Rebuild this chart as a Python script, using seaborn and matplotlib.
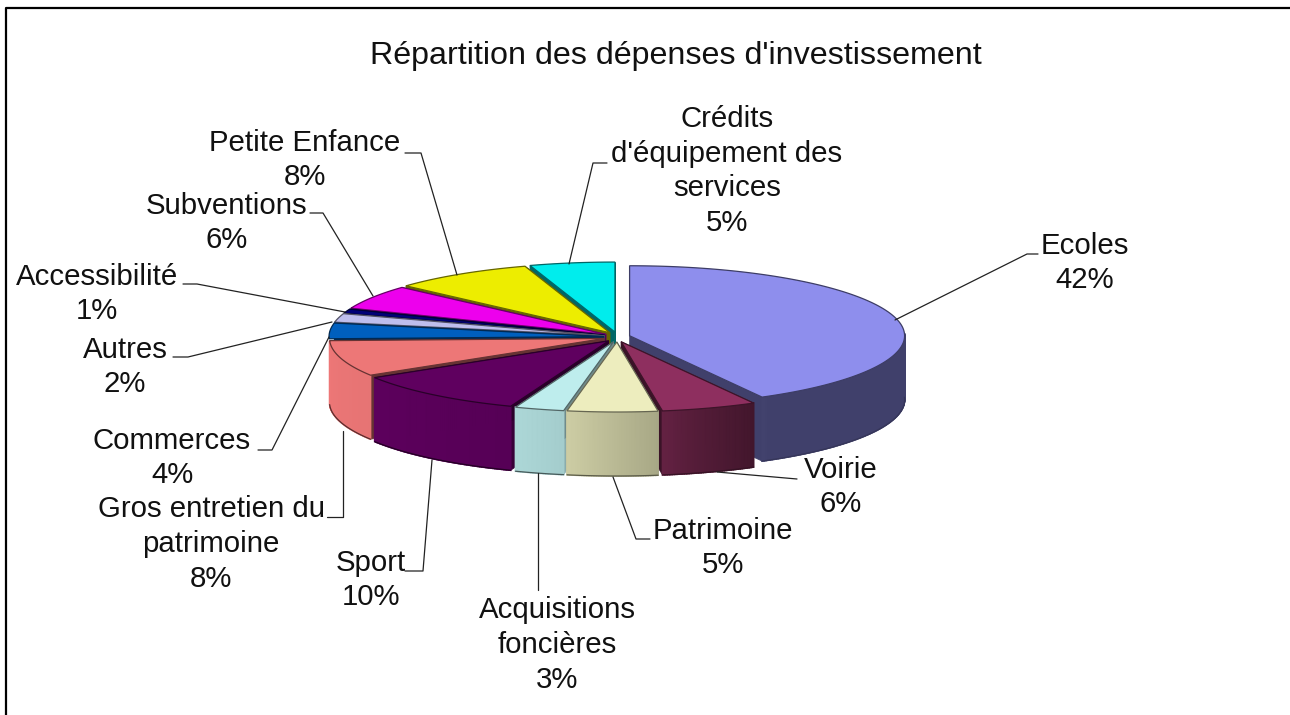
import numpy as np
import seaborn as sns
import matplotlib.pyplot as plt
from matplotlib.colors import to_rgb

sns.set_theme(style="white")
plt.rcParams['font.family'] = ['Liberation Sans', 'DejaVu Sans']

# data (clockwise from 12 o'clock)
categories = ["Ecoles", "Voirie", "Patrimoine", "Acquisitions\nfoncières", "Sport",
              "Gros entretien du\npatrimoine", "Commerces", "Autres", "Accessibilité",
              "Subventions", "Petite Enfance", "Crédits\nd'équipement des\nservices"]
values = [42, 5.6, 5.3, 2.9, 10.4, 8.3, 3.6, 2, 1, 5.6, 8.3, 5]
title = "Répartition des dépenses d'investissement"

# style
hex_colors = ["#9999FF", "#993366", "#FFFFCC", "#CCFFFF", "#660066", "#FF8080",
              "#0066CC", "#CCCCFF", "#000080", "#FF00FF", "#FFFF00", "#00FFFF"]
palette = sns.color_palette(hex_colors)

# pixel layout
cx, cy = 617, 337
rx, ry = 275, 70
depth = 64
expl_x, expl_y = 13, 5
label_pos = [(1085, 263), (841, 487), (723, 548), (557, 645), (371, 580), (211, 544),
             (172, 458), (125, 367), (97, 294), (227, 223), (305, 160), (727, 171)]
leaders = [
    [(895, 320), (1027, 254), (1038, 254)],
    [(717, 472), (797, 479)],
    [(613, 477), (636, 539), (650, 539)],
    [(538, 473), (538, 590)],
    [(432, 460), (423, 571), (405, 571)],
    [(343, 431), (343, 517), (327, 517)],
    [(329, 337), (272, 450), (258, 450)],
    [(332, 322), (188, 357), (173, 357)],
    [(345, 312), (197, 284), (183, 284)],
    [(373, 296), (323, 213), (310, 213)],
    [(457, 275), (421, 153), (405, 153)],
    [(569, 264), (593, 163), (607, 163)],
]


def side_shade(a):
    return np.interp(a, [90, 150, 165, 172, 190, 200, 235, 270], [.42, .42, .56, .66, .8, .84, .9, .93])


def wall_shade(a):
    return np.interp(a, [151, 172, 190, 200, 238, 360], [.42, .38, .68, .55, .4, .4])


def mul(col, f):
    return tuple(np.clip(np.array(to_rgb(col)) * f, 0, 1))


fig = plt.figure(figsize=(12.9, 7.15), dpi=100)
ax = fig.add_axes([0, 0, 1, 1])
ax.set_xlim(0, 1290)
ax.set_ylim(715, 0)
ax.axis("off")
ax.plot([6, 6, 1290], [715, 8, 8], color="black", lw=1.6, solid_capstyle="butt")

edges = np.concatenate([[0], np.cumsum(values)]) * 360 / np.sum(values)
mids = (edges[:-1] + edges[1:]) / 2
order = np.argsort(-np.cos(np.radians(mids)))

for i in order:
    a0, a1, am = edges[i], edges[i + 1], mids[i]
    col = palette[i]
    ox = cx + expl_x * np.sin(np.radians(am))
    oy = cy - expl_y * np.cos(np.radians(am))
    th = np.linspace(a0, a1, max(int(a1 - a0) * 2, 6))
    xs = ox + rx * np.sin(np.radians(th))
    ys = oy - ry * np.cos(np.radians(th))

    # cut faces (the one pointing straight left would stick out past the side)
    for a, x, y in ((a0, xs[0], ys[0]), (a1, xs[-1], ys[-1])):
        if 262 < a < 275:
            continue
        ax.fill([ox, x, x, ox], [oy, y, y + depth, oy + depth], color=mul(col, wall_shade(a)), lw=0.5, zorder=2)

    # outer wall, only the part facing us
    front = (np.cos(np.radians(th)) < 0.04) & (th < 268.5)
    for j in range(len(th) - 1):
        if front[j] and front[j + 1]:
            ax.fill([xs[j], xs[j + 1], xs[j + 1], xs[j]], [ys[j], ys[j + 1], ys[j + 1] + depth, ys[j] + depth],
                    color=mul(col, side_shade((th[j] + th[j + 1]) / 2)), lw=1.2, zorder=2)
    if front.sum() > 1:
        ax.plot(xs[front], ys[front] + depth, color=mul(col, .35), lw=0.9, zorder=2)

    # top face
    ax.fill(np.r_[ox, xs], np.r_[oy, ys], facecolor=mul(col, .93), edgecolor=mul(col, .4), lw=0.9, zorder=2)
    # zorder stays the same so drawing order decides what hides what

for pts in leaders:
    ax.plot(*zip(*pts), color="#222222", lw=0.9, zorder=3)

for name, v, (x, y) in zip(categories, values, label_pos):
    ax.text(x, y, f"{name}\n{round(v)}%", ha="center", va="center", fontsize=21.2, color="#111111",
            linespacing=1.3, zorder=4)

ax.text(676, 56, title, ha="center", va="center", fontsize=23.2, color="#111111")

fig.savefig("out.png", dpi=100)
